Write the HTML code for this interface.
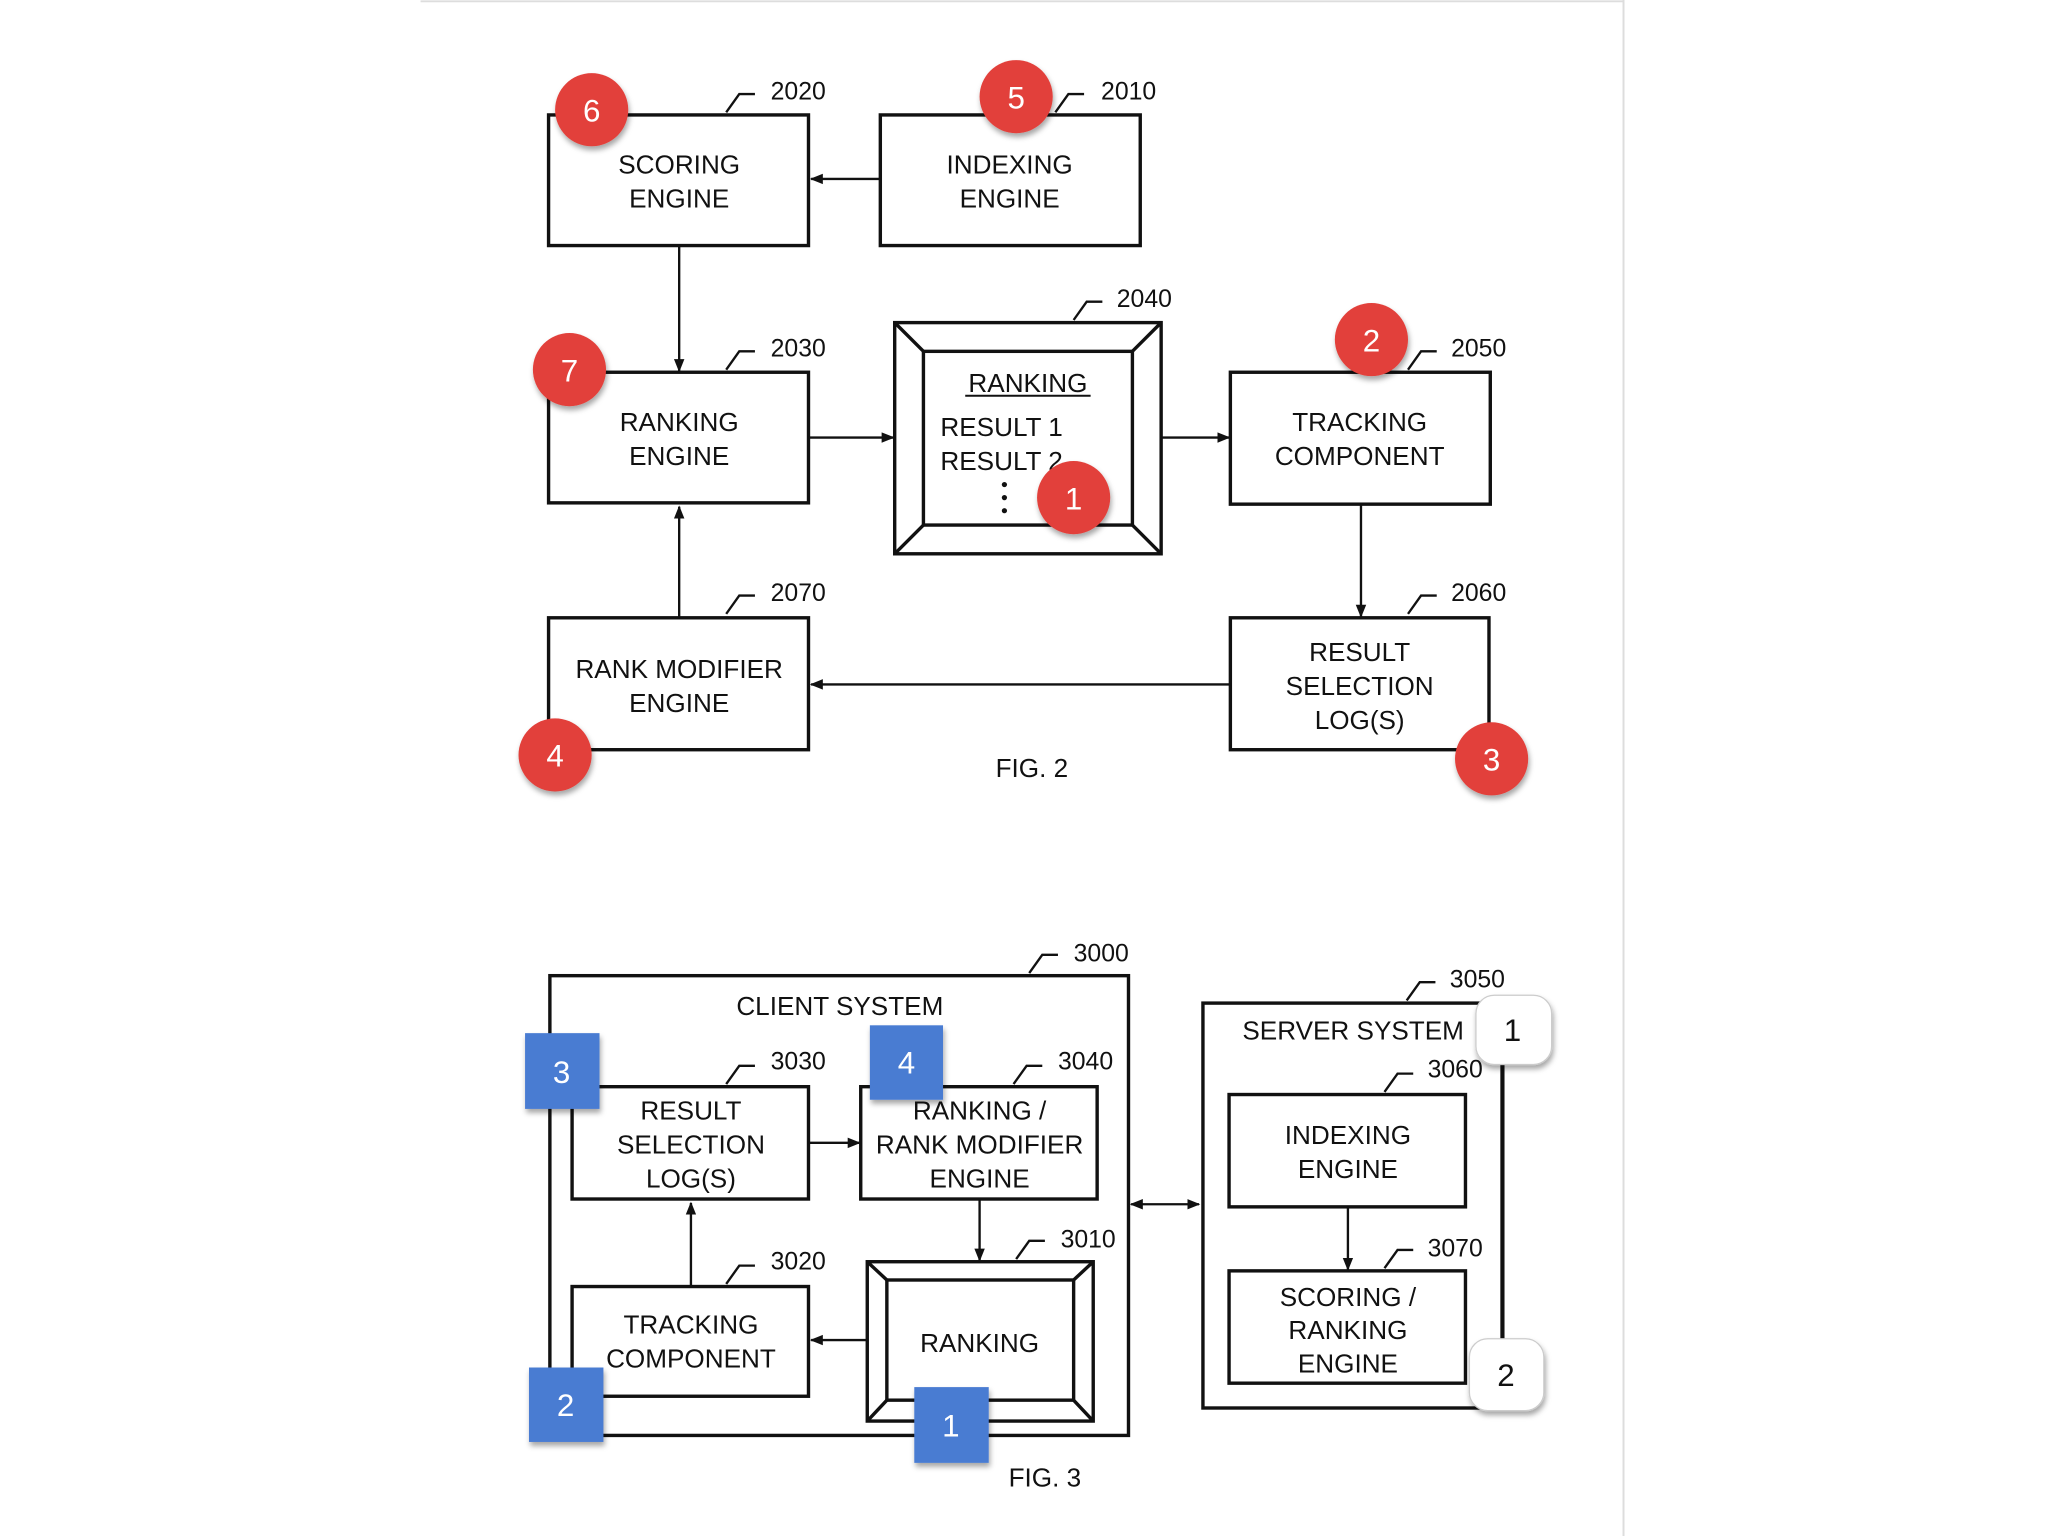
<!DOCTYPE html>
<html><head><meta charset="utf-8"><style>
html,body{margin:0;padding:0;background:#fff;}
svg{display:block;}
text{font-family:"Liberation Sans",sans-serif;fill:#111;}
.t{font-size:20px;text-anchor:middle;}
.n{font-size:19px;}
.b{fill:none;stroke:#111;stroke-width:2.6;}
.l{stroke:#111;stroke-width:1.8;fill:none;}
.w{font-size:24px;fill:#fff;text-anchor:middle;}
</style></head><body>
<svg width="2048" height="1536" viewBox="0 0 1568 1176" xmlns="http://www.w3.org/2000/svg">
<defs>
<marker id="a" markerWidth="10" markerHeight="10" refX="9" refY="5" orient="auto" markerUnits="userSpaceOnUse"><path d="M0,1 L10,5 L0,9 z" fill="#111"/></marker>
<marker id="s" markerWidth="10" markerHeight="10" refX="1" refY="5" orient="auto" markerUnits="userSpaceOnUse"><path d="M10,1 L0,5 L10,9 z" fill="#111"/></marker>
<filter id="sh" x="-30%" y="-30%" width="160%" height="170%"><feDropShadow dx="1" dy="3" stdDeviation="2" flood-opacity="0.35"/></filter>
</defs>
<line x1="322" y1="1" x2="1243" y2="1" stroke="#ddd" stroke-width="1.5"/>
<line x1="1243" y1="0" x2="1243" y2="1176" stroke="#ddd" stroke-width="1.5"/>

<!-- FIG 2 -->
<rect class="b" x="420" y="88" width="199" height="100"/>
<text class="t" x="520" y="133">SCORING</text><text class="t" x="520" y="159">ENGINE</text>
<rect class="b" x="674" y="88" width="199" height="100"/>
<text class="t" x="773" y="133">INDEXING</text><text class="t" x="773" y="159">ENGINE</text>
<line class="l" x1="674" y1="137" x2="621" y2="137" marker-end="url(#a)"/>
<line class="l" x1="520" y1="188" x2="520" y2="284" marker-end="url(#a)"/>
<rect class="b" x="420" y="285" width="199" height="100"/>
<text class="t" x="520" y="330">RANKING</text><text class="t" x="520" y="356">ENGINE</text>
<rect class="b" x="685" y="247" width="204" height="177"/>
<rect class="b" x="707" y="269" width="160" height="133"/>
<path class="b" d="M685,247 L707,269 M889,247 L867,269 M685,424 L707,402 M889,424 L867,402"/>
<text class="t" x="787" y="300">RANKING</text>
<line x1="739" y1="303" x2="835" y2="303" stroke="#111" stroke-width="1.5"/>
<text class="n" x="720" y="334" style="font-size:20px">RESULT 1</text>
<text class="n" x="720" y="360" style="font-size:20px">RESULT 2</text>
<circle cx="769" cy="371" r="2" fill="#111"/><circle cx="769" cy="381" r="2" fill="#111"/><circle cx="769" cy="391" r="2" fill="#111"/>
<line class="l" x1="619" y1="335" x2="684" y2="335" marker-end="url(#a)"/>
<line class="l" x1="889" y1="335" x2="941" y2="335" marker-end="url(#a)"/>
<rect class="b" x="942" y="285" width="199" height="101"/>
<text class="t" x="1041" y="330">TRACKING</text><text class="t" x="1041" y="356">COMPONENT</text>
<line class="l" x1="1042" y1="386" x2="1042" y2="472" marker-end="url(#a)"/>
<rect class="b" x="942" y="473" width="198" height="101"/>
<text class="t" x="1041" y="506">RESULT</text><text class="t" x="1041" y="532">SELECTION</text><text class="t" x="1041" y="558">LOG(S)</text>
<line class="l" x1="942" y1="524" x2="621" y2="524" marker-end="url(#a)"/>
<rect class="b" x="420" y="473" width="199" height="101"/>
<text class="t" x="520" y="519">RANK MODIFIER</text><text class="t" x="520" y="545">ENGINE</text>
<line class="l" x1="520" y1="473" x2="520" y2="388" marker-end="url(#a)"/>
<text class="t" x="790" y="595">FIG. 2</text>
<g class="l">
<path d="M556,86 L566,72 L578,72"/><path d="M808,86 L818,72 L830,72"/>
<path d="M822,245 L832,231 L844,231"/><path d="M556,283 L566,269 L578,269"/>
<path d="M1078,283 L1088,269 L1100,269"/><path d="M1078,470 L1088,456 L1100,456"/>
<path d="M556,470 L566,456 L578,456"/>
</g>
<text class="n" x="590" y="76">2020</text><text class="n" x="843" y="76">2010</text>
<text class="n" x="855" y="235">2040</text><text class="n" x="590" y="273">2030</text>
<text class="n" x="1111" y="273">2050</text><text class="n" x="1111" y="460">2060</text>
<text class="n" x="590" y="460">2070</text>
<g fill="#e2403a" filter="url(#sh)">
<circle cx="453" cy="84" r="28"/><circle cx="778" cy="74" r="28"/><circle cx="436" cy="283" r="28"/>
<circle cx="822" cy="381" r="28"/><circle cx="1050" cy="260" r="28"/><circle cx="425" cy="578" r="28"/>
<circle cx="1142" cy="581" r="28"/>
</g>
<text class="w" x="453" y="93">6</text><text class="w" x="778" y="83">5</text><text class="w" x="436" y="292">7</text>
<text class="w" x="822" y="390">1</text><text class="w" x="1050" y="269">2</text><text class="w" x="425" y="587">4</text>
<text class="w" x="1142" y="590">3</text>

<!-- FIG 3 -->
<rect class="b" x="421" y="747" width="443" height="352"/>
<text class="t" x="643" y="777">CLIENT SYSTEM</text>
<rect class="b" x="438" y="832" width="181" height="86"/>
<text class="t" x="529" y="857">RESULT</text><text class="t" x="529" y="883">SELECTION</text><text class="t" x="529" y="909">LOG(S)</text>
<rect class="b" x="659" y="832" width="181" height="86"/>
<text class="t" x="750" y="857">RANKING /</text><text class="t" x="750" y="883">RANK MODIFIER</text><text class="t" x="750" y="909">ENGINE</text>
<line class="l" x1="619" y1="875" x2="658" y2="875" marker-end="url(#a)"/>
<line class="l" x1="750" y1="918" x2="750" y2="965" marker-end="url(#a)"/>
<rect class="b" x="664" y="966" width="173" height="122"/>
<rect class="b" x="679" y="980" width="143" height="92"/>
<path class="b" d="M664,966 L679,980 M837,966 L822,980 M664,1088 L679,1072 M837,1088 L822,1072"/>
<text class="t" x="750" y="1035">RANKING</text>
<rect class="b" x="438" y="985" width="181" height="84"/>
<text class="t" x="529" y="1021">TRACKING</text><text class="t" x="529" y="1047">COMPONENT</text>
<line class="l" x1="664" y1="1026" x2="621" y2="1026" marker-end="url(#a)"/>
<line class="l" x1="529" y1="985" x2="529" y2="921" marker-end="url(#a)"/>
<text class="t" x="800" y="1138">FIG. 3</text>
<line class="l" x1="866" y1="922" x2="918" y2="922" marker-start="url(#s)" marker-end="url(#a)"/>
<rect class="b" x="921" y="768" width="229" height="310"/>
<text class="t" x="1036" y="796">SERVER SYSTEM</text>
<rect class="b" x="941" y="838" width="181" height="86"/>
<text class="t" x="1032" y="876">INDEXING</text><text class="t" x="1032" y="902">ENGINE</text>
<line class="l" x1="1032" y1="924" x2="1032" y2="972" marker-end="url(#a)"/>
<rect class="b" x="941" y="973" width="181" height="86"/>
<text class="t" x="1032" y="1000">SCORING /</text><text class="t" x="1032" y="1025">RANKING</text><text class="t" x="1032" y="1051">ENGINE</text>
<line class="l" x1="1151" y1="815" x2="1151" y2="1025"/>
<g class="l">
<path d="M788,745 L798,731 L810,731"/><path d="M556,830 L566,816 L578,816"/>
<path d="M776,830 L786,816 L798,816"/><path d="M778,964 L788,950 L800,950"/>
<path d="M556,983 L566,969 L578,969"/><path d="M1077,766 L1087,752 L1099,752"/>
<path d="M1060,836 L1070,822 L1082,822"/><path d="M1060,971 L1070,957 L1082,957"/>
</g>
<text class="n" x="822" y="736">3000</text><text class="n" x="590" y="819">3030</text>
<text class="n" x="810" y="819">3040</text><text class="n" x="812" y="955">3010</text>
<text class="n" x="590" y="972">3020</text><text class="n" x="1110" y="756">3050</text>
<text class="n" x="1093" y="825">3060</text><text class="n" x="1093" y="962">3070</text>
<g fill="#fff" stroke="#ccc" stroke-width="1" filter="url(#sh)">
<rect x="1130" y="762" width="58" height="53" rx="14"/>
<rect x="1125" y="1025" width="57" height="55" rx="14"/>
</g>
<text x="1158" y="797" style="font-size:24px;text-anchor:middle">1</text>
<text x="1153" y="1061" style="font-size:24px;text-anchor:middle">2</text>
<g fill="#4a7bd2" filter="url(#sh)">
<rect x="402" y="791" width="57" height="58"/><rect x="666" y="785" width="56" height="57"/>
<rect x="405" y="1047" width="57" height="57"/><rect x="700" y="1062" width="57" height="58"/>
</g>
<text class="w" x="430" y="829">3</text><text class="w" x="694" y="822">4</text>
<text class="w" x="433" y="1084">2</text><text class="w" x="728" y="1100">1</text>
</svg>
</body></html>
